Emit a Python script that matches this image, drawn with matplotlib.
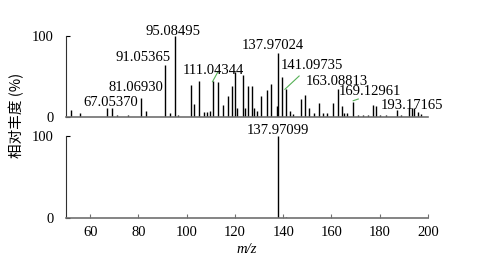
import matplotlib
matplotlib.use("Agg")
import matplotlib.pyplot as plt

# ---- data ----
top_mz = [52.0, 55.8, 67.1, 68.9, 71.0, 75.7, 81.07, 83.0, 91.05, 93.1, 95.08, 96.5,
          102.0, 103.2, 105.1, 107.0, 108.3, 109.5, 111.04, 113.1, 115.2, 117.2, 118.9,
          120.0, 121.0, 123.2, 124.2, 125.3, 127.0, 128.1, 129.0, 131.0, 133.1, 134.9,
          137.3, 137.97, 139.3, 141.1, 142.9, 144.0, 147.2, 149.0, 150.8, 152.7, 154.9,
          156.5, 158.0, 160.7, 162.5, 164.2, 165.3, 166.5, 169.1, 171.2, 173.2, 175.3,
          177.1, 178.4, 180.0, 182.8, 187.0, 189.0, 192.2, 193.2, 194.2, 195.7, 197.0]
top_int = [9, 5, 11, 11, 3, 2, 24, 8, 64, 5, 100, 3,
           40, 16, 44, 6, 6, 8, 44, 43, 15, 26, 38,
           56, 11, 52, 11, 38, 38, 11, 8, 26, 33, 41,
           14, 79, 49, 34, 7, 4, 22, 27, 11, 5, 17,
           5, 5, 17, 35, 14, 5, 5, 19, 3, 3, 3,
           15, 14, 3, 2, 9, 2, 11, 11, 11, 6, 4]
bot_mz = [137.97, 141.2]
bot_int = [100, 1.5]

top_labels = ["67.05370", "81.06930", "91.05365", "95.08495", "111.04344",
              "137.97024", "141.09735", "163.08813", "169.12961", "193.17165"]
top_label_x = [68.6, 78.8, 81.9, 94.3, 111.1, 135.7, 152.1, 162.1, 176.1, 193.2]
top_label_y = [18.5, 37, 74, 105, 57, 88, 63, 44.4, 31, 14]
bot_label = "137.97099"
bot_label_xy = (137.8, 107)

# connector lines (x0, y0, x1, y1)
conn_x0 = [110.7, 140.7, 169.0]
conn_y0 = [43.6, 34.2, 20.1]
conn_x1 = [113.0, 146.6, 171.1]
conn_y1 = [56.0, 50.6, 22.2]

xticks = [60, 80, 100, 120, 140, 160, 180, 200]

# ---- plot ----
plt.rcParams['font.family'] = ['Liberation Serif', 'Noto Sans CJK SC']
fs = 10.5
W, H = 478, 276
fig = plt.figure(figsize=(W / 100, H / 100), dpi=100)
fig.patch.set_facecolor('white')

left = 66 / W
width = 362 / W
ax1 = fig.add_axes([left, 1 - 117 / H, width, 81 / H])
ax2 = fig.add_axes([left, 1 - 218 / H, width, 82 / H])

spine_col = '#707070'
for ax in (ax1, ax2):
    ax.set_xlim(50, 200)
    ax.set_ylim(0, 100)
    ax.spines['top'].set_visible(False)
    ax.spines['right'].set_visible(False)
    ax.spines['left'].set_color('#303030')
    ax.spines['bottom'].set_color(spine_col)
    ax.spines['bottom'].set_linewidth(1.2)
    ax.spines['left'].set_linewidth(0.8)
    ax.set_yticks([0, 100])
    ax.set_yticklabels(['0', '100'], fontsize=fs)
    ax.tick_params(axis='y', direction='in', length=3, width=0.8, pad=9)
    ax.patch.set_alpha(0)

ax1.vlines(top_mz, 0, top_int, color='black', linewidth=1.0)
ax1.set_xticks([])
for t, x, y in zip(top_labels, top_label_x, top_label_y):
    ax1.text(x, y, t, ha='center', va='center', fontsize=fs, clip_on=False)
for x0, y0, x1, y1 in zip(conn_x0, conn_y0, conn_x1, conn_y1):
    ax1.plot([x0, x1], [y0, y1], color='#55b055', linewidth=0.8, clip_on=False)

ax2.vlines(bot_mz, 0, bot_int, color='black', linewidth=1.0)
ax2.text(bot_label_xy[0], bot_label_xy[1], bot_label, ha='center', va='center',
         fontsize=fs, clip_on=False)
ax2.set_xticks(xticks)
ax2.set_xticklabels([str(v) for v in xticks], fontsize=fs)
ax2.tick_params(axis='x', direction='in', length=3, width=0.8, color=spine_col, pad=6)
ax2.set_xlabel('m/z', fontsize=fs, style='italic', labelpad=3)

fig.text(17 / W, 1 - 115 / H, '相对丰度 (%)', rotation=90, ha='center', va='center',
         fontsize=fs, family=['Noto Sans CJK SC', 'DejaVu Sans'])

fig.savefig('out.png', dpi=100, facecolor='white')
